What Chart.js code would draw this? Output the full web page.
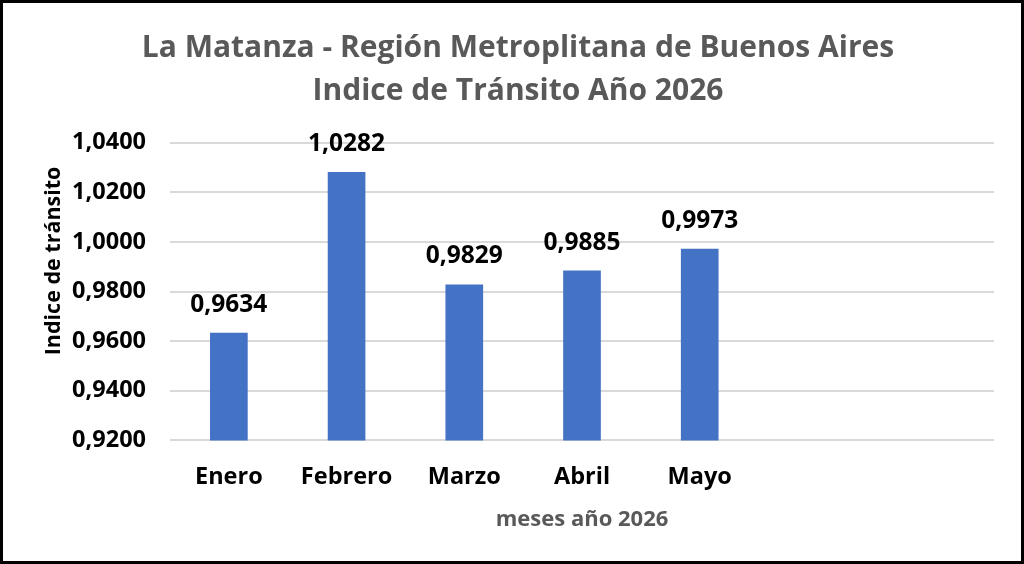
<!DOCTYPE html>
<html>
<head>
<meta charset="utf-8">
<script src="https://cdn.jsdelivr.net/npm/chart.js@4.4.1/dist/chart.umd.min.js"></script>
<style>
  html, body { margin: 0; padding: 0; background: #fff; }
  #wrap { width: 1024px; height: 564px; position: relative; }
</style>
</head>
<body>
<div id="wrap"><canvas id="indiceChart" width="1024" height="564"></canvas></div>
<script>
// datos del gráfico
const meses = ["Enero", "Febrero", "Marzo", "Abril", "Mayo", "", ""];
const indice = [0.9634, 1.0282, 0.9829, 0.9885, 0.9973, null, null];
const tituloLineas = ["La Matanza - Región Metroplitana de Buenos Aires", "Indice de Tránsito Año 2026"];
const tituloEjeY = "Indice de tránsito";
const tituloEjeX = "meses año 2026";

const FONT = "'Open Sans', Lato, sans-serif";

function fmt(v) {
  return v.toFixed(4).replace(".", ",");
}

// etiquetas de valor sobre cada barra
const valueLabels = {
  id: "valueLabels",
  afterDatasetsDraw(chart) {
    const ctx = chart.ctx;
    const meta = chart.getDatasetMeta(0);
    ctx.save();
    ctx.font = "bold 24.5px " + FONT;
    ctx.fillStyle = "#000";
    ctx.textAlign = "center";
    ctx.textBaseline = "middle";
    meta.data.forEach((bar, i) => {
      const v = indice[i];
      if (v == null) return;
      ctx.fillText(fmt(v), bar.x, bar.y - 28);
    });
    ctx.restore();
  }
};

// título del eje Y (un poco por encima del centro, como en el original)
const yTitle = {
  id: "yTitle",
  afterDraw(chart) {
    const ctx = chart.ctx;
    const a = chart.chartArea;
    ctx.save();
    ctx.translate(54, a.top + (a.bottom - a.top) * 0.397);
    ctx.rotate(-Math.PI / 2);
    ctx.font = "bold 21.5px " + FONT;
    ctx.fillStyle = "#000";
    ctx.textAlign = "center";
    ctx.textBaseline = "middle";
    ctx.fillText(tituloEjeY, 0, 0);
    ctx.restore();
  }
};

// marco negro alrededor de la imagen
const frame = {
  id: "frame",
  afterDraw(chart) {
    const ctx = chart.ctx;
    ctx.save();
    ctx.strokeStyle = "#000";
    ctx.lineWidth = 3;
    ctx.strokeRect(1.5, 1.5, chart.width - 3, chart.height - 3);
    ctx.restore();
  }
};

new Chart(document.getElementById("indiceChart").getContext("2d"), {
  type: "bar",
  data: {
    labels: meses,
    datasets: [{
      data: indice,
      backgroundColor: "#4472C4",
      barPercentage: 0.32,
      categoryPercentage: 1
    }]
  },
  options: {
    responsive: false,
    animation: false,
    layout: { padding: { left: 42, right: 30, top: 0, bottom: 0 } },
    plugins: {
      legend: { display: false },
      tooltip: { enabled: false },
      title: {
        display: true,
        text: tituloLineas,
        color: "#595959",
        font: { family: FONT, size: 30, weight: "bold", lineHeight: 1.43 },
        padding: { top: 27, bottom: 30 }
      }
    },
    scales: {
      x: {
        grid: { display: false },
        border: { display: false },
        ticks: {
          color: "#000",
          font: { family: FONT, size: 23.5, weight: "bold" },
          padding: 15,
          maxRotation: 0
        },
        title: {
          display: true,
          text: tituloEjeX,
          color: "#595959",
          font: { family: FONT, size: 22, weight: "bold" },
          padding: { top: 0, bottom: 31 }
        }
      },
      y: {
        min: 0.92,
        max: 1.04,
        grid: { color: "#D9D9D9", lineWidth: 2, drawTicks: false },
        border: { display: false },
        ticks: {
          stepSize: 0.02,
          color: "#000",
          font: { family: FONT, size: 23.5, weight: "bold" },
          padding: 24,
          callback: (v) => fmt(v)
        },
        afterFit(scale) { scale.width = 128; }
      }
    }
  },
  plugins: [valueLabels, yTitle, frame]
});
</script>
</body>
</html>
